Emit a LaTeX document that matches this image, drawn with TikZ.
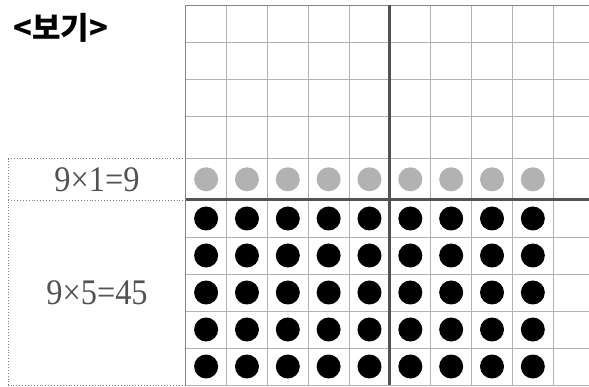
\documentclass[tikz,border=0pt]{standalone}
\usepackage{fontspec}
\setmainfont{Liberation Serif}
\newfontfamily\cjk{Noto Sans CJK KR}
\begin{document}
\begin{tikzpicture}[x=1pt,y=-1pt,
  gridline/.style={draw=black!30,line width=0.9pt},
  borderline/.style={draw=black!48,line width=1.1pt},
  thickline/.style={draw=black!68,line width=3pt},
  dotbox/.style={draw=black!50,dotted,line width=0.9pt},
  graydot/.style={circle,fill=black!30,minimum size=24pt,inner sep=0pt},
  blackdot/.style={circle,fill=black,minimum size=24pt,inner sep=0pt},
  eqlabel/.style={text=black!68,font=\fontsize{36}{36}\selectfont,inner sep=0pt},
  titlelabel/.style={font=\cjk\bfseries\fontsize{31}{31}\selectfont,inner sep=0pt}]
\useasboundingbox (0,0) rectangle (589,387);
\def\cw{40.84}
% horizontal grid lines
\foreach \yy in {42.3,79.3,116.3,158.7,237,274,311,348}
  \draw[gridline] (185.7,\yy) -- (589,\yy);
\draw[gridline] (185.7,385) -- (589,385);
% vertical grid lines
\foreach \i in {1,2,3,4,6,7,8,9}
  \draw[gridline] ({185.7+\i*\cw},5.3) -- ({185.7+\i*\cw},385);
% borders
\draw[borderline] (589,5.3) -- (185.7,5.3) -- (185.7,385);
% thick lines
\draw[thickline] ({185.7+5*\cw},5.3) -- ({185.7+5*\cw},385);
\draw[thickline] (185.7,200) -- (589,200);
% dotted label box
\draw[dotbox] (185.7,158.7) -- (8.3,158.7) -- (8.3,385) -- (185.7,385);
\draw[dotbox] (8.3,200) -- (185.7,200);
% labels
\node[titlelabel] (title) at (61,28) {<보기>};
\node[eqlabel] (eqone) at (97,179.5) {\scalebox{0.9}[1]{9×1=9}};
\node[eqlabel] (eqfive) at (97,292.5) {\scalebox{0.9}[1]{9×5=45}};
% gray dots
\foreach \c in {1,...,9}
  \node[graydot] (g-\c) at ({185.7+(\c-0.5)*\cw},179.3) {};
% black dots
\foreach \r/\yy in {1/218.5,2/255.5,3/292.5,4/329.5,5/366.5}
  \foreach \c in {1,...,9}
    \node[blackdot] (b-\r-\c) at ({185.7+(\c-0.5)*\cw},\yy) {};
\end{tikzpicture}
\end{document}
